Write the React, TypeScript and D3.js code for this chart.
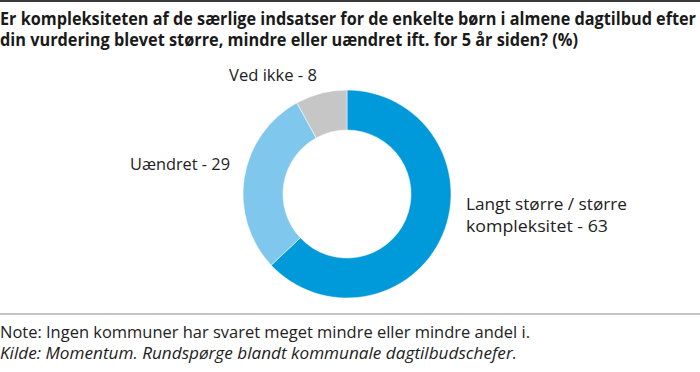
import React from "react";
import * as d3 from "d3";

const categories = ["Langt større / større kompleksitet", "Uændret", "Ved ikke"];
const values = [63, 29, 8];
const colors = ["#009ada", "#7fc7ec", "#c6c6c6"];
const titleLines = [
  "Er kompleksiteten af de særlige indsatser for de enkelte børn i almene dagtilbud efter",
  "din vurdering blevet større, mindre eller uændret ift. for 5 år siden? (%)",
];
const labelLines = [
  ["Langt større / større", "kompleksitet - 63"],
  ["Uændret - 29"],
  ["Ved ikke - 8"],
];
const labelPos = [
  { x: 466, y: 210, w: [161, 142] },
  { x: 130, y: 170, w: [100] },
  { x: 229, y: 81, w: [88] },
];

export default function App() {
  const W = 700, H = 372;
  const cx = 347, cy = 194, rOut = 104, rIn = 64;
  const pie = d3.pie<number>().sort(null).value((d) => d);
  const arcs = pie(values);
  const arc = d3.arc<d3.PieArcDatum<number>>().innerRadius(rIn).outerRadius(rOut);
  const font = "'Open Sans', 'Noto Sans', sans-serif";
  return (
    <svg width={W} height={H} style={{ position: "absolute", left: 0, top: 0, background: "#fff" }}>
      <rect x={0} y={0} width={W} height={2} fill="#3a3a3a" />
      {titleLines.map((t, i) => (
        <text key={i} x={0} y={25 + i * 21} fontFamily={font} fontWeight={700} fontSize={17.5}
          fill="#1a1a1a" textLength={i === 0 ? 696 : 578} lengthAdjust="spacingAndGlyphs">{t}</text>
      ))}
      <g transform={`translate(${cx},${cy})`}>
        {arcs.map((a, i) => (
          <path key={categories[i]} d={arc(a) || ""} fill={colors[i]} stroke="#fff" strokeWidth={0.5} />
        ))}
      </g>
      {labelLines.map((lines, i) =>
        lines.map((l, j) => (
          <text key={`${i}-${j}`} x={labelPos[i].x} y={labelPos[i].y + j * 22}
            fontFamily={font} fontSize={17} fill="#222"
            textLength={labelPos[i].w[j]} lengthAdjust="spacingAndGlyphs">{l}</text>
        ))
      )}
      <rect x={0} y={313.5} width={W} height={1} fill="#8a8a8a" />
      <text x={0} y={338} fontFamily={font} fontSize={16.5} fill="#222"
        textLength={530} lengthAdjust="spacingAndGlyphs">
        Note: Ingen kommuner har svaret meget mindre eller mindre andel i.
      </text>
      <text x={0} y={359} fontFamily={font} fontSize={16.5} fontStyle="italic" fill="#222"
        textLength={517} lengthAdjust="spacingAndGlyphs">
        Kilde: Momentum. Rundspørge blandt kommunale dagtilbudschefer.
      </text>
    </svg>
  );
}
